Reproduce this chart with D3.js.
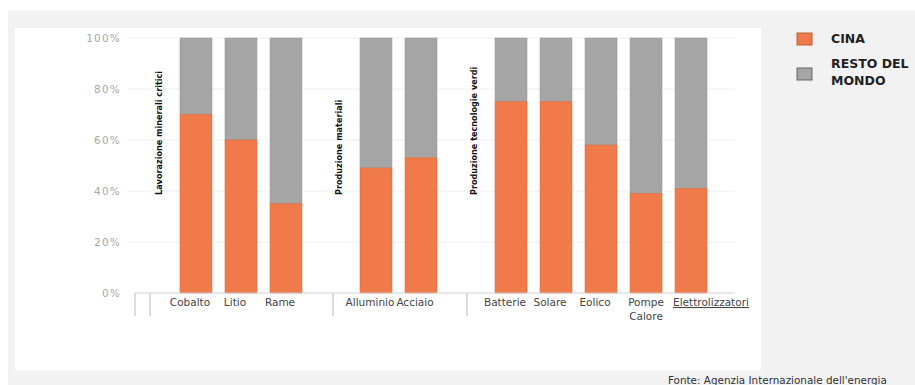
<!DOCTYPE html>
<html><head><meta charset="utf-8">
<script src="https://cdn.jsdelivr.net/npm/d3@7"></script>
<style>body{margin:0;background:#fff}svg{display:block}</style>
</head><body>
<svg id="c" width="915" height="385"></svg>
<script>
// Data
const slots = ["g1","Cobalto","Litio","Rame","g2","Alluminio","Acciaio","g3","Batterie","Solare","Eolico","Pompe Calore","Elettrolizzatori"];
const categories = ["Cobalto","Litio","Rame","Alluminio","Acciaio","Batterie","Solare","Eolico","Pompe Calore","Elettrolizzatori"];
const cina = [70,60,35,49,53,75,75,58,39,41];
const groupSlots = ["g1","g2","g3"];
const groupLabels = ["Lavorazione minerali critici","Produzione materiali","Produzione tecnologie verdi"];
const yTicks = [0,20,40,60,80,100];
const seriesNames = ["CINA","RESTO DEL MONDO"];
const colors = ["#f07a4a","#a5a5a5"];

const svg = d3.select("#c");
// backgrounds
svg.append("rect").attr("x",8).attr("y",10).attr("width",907).attr("height",375).attr("fill","#f2f2f2");
svg.append("rect").attr("x",15).attr("y",28).attr("width",746).attr("height",342).attr("fill","#ffffff");

const pLeft=135, pTop=38, pBottom=293;
const x = d3.scaleBand().domain(slots).range([pLeft,707]).paddingInner(0.29).paddingOuter(0).align(0);
const y = d3.scaleLinear().domain([0,100]).range([pBottom,pTop]);

// gridlines
svg.append("g").selectAll("line").data(yTicks.filter(d=>d>0)).join("line")
  .attr("x1",128).attr("x2",735).attr("y1",d=>y(d)).attr("y2",d=>y(d))
  .attr("stroke","#f0f0f0").attr("stroke-width",1);

// y axis labels
const ya = svg.append("g").attr("transform",`translate(${pLeft-11},0)`)
  .call(d3.axisLeft(y).tickValues(yTicks).tickFormat(d=>d+"%").tickSize(0));
ya.select(".domain").remove();
ya.selectAll("text").attr("font-family","DejaVu Sans").attr("font-size",10.5).attr("letter-spacing",1.2)
  .attr("fill","#a8a8a8").attr("dx",0);

// bars
const data = categories.map((c,i)=>({c, v:cina[i]}));
const bars = svg.append("g");
bars.selectAll(".rest").data(data).join("rect").attr("class","rest")
  .attr("x",d=>x(d.c)).attr("width",x.bandwidth())
  .attr("y",y(100)).attr("height",d=>y(d.v)-y(100))
  .attr("fill",colors[1]).attr("stroke","#9a9a9a").attr("stroke-width",0.6);
bars.selectAll(".cina").data(data).join("rect").attr("class","cina")
  .attr("x",d=>x(d.c)).attr("width",x.bandwidth())
  .attr("y",d=>y(d.v)).attr("height",d=>y(0)-y(d.v))
  .attr("fill",colors[0]).attr("stroke","#e06a3c").attr("stroke-width",0.6);

// x axis line
svg.append("line").attr("x1",pLeft).attr("x2",735).attr("y1",pBottom).attr("y2",pBottom).attr("stroke","#d0d0d0");
// separators
const seps = [pLeft, pLeft+15, (x("Rame")+x.bandwidth()+x("Alluminio"))/2 + 2, (x("Acciaio")+x.bandwidth()+x("Batterie"))/2 + 1];
svg.append("g").selectAll("line").data(seps).join("line")
  .attr("x1",d=>d).attr("x2",d=>d).attr("y1",pBottom).attr("y2",316)
  .attr("stroke","#b8b8b8").attr("stroke-width",1);

// category labels
const xl = svg.append("g").attr("font-family","'DejaVu Sans'").attr("font-size",10.5).attr("fill","#444");
xl.selectAll("text").data(categories).join("text")
  .attr("x",d=>x(d)+x.bandwidth()/2 - 6).attr("y",306).attr("text-anchor","middle")
  .each(function(d){
    const t=d3.select(this);
    const cx = x(d)+x.bandwidth()/2;
    if(d==="Pompe Calore"){
      t.append("tspan").attr("x",cx).attr("dy",0).text("Pompe");
      t.append("tspan").attr("x",cx).attr("dy",14).text("Calore");
    } else if(d==="Elettrolizzatori"){
      t.attr("x",x(d)-2).attr("text-anchor","start").text(d).attr("text-decoration","underline");
    } else t.text(d);
  });

// group labels (vertical)
svg.append("g").selectAll("text").data(groupSlots).join("text")
  .attr("transform",d=>`translate(${x(d)+x.bandwidth()/2 + 11},195) rotate(-90)`)
  .attr("font-family","'Liberation Sans Narrow','DejaVu Sans Condensed',Arial").attr("font-size",9).attr("font-weight","bold").attr("fill","#111")
  .attr("text-anchor","start")
  .text((d,i)=>groupLabels[i]);

// legend
const lg = svg.append("g").attr("font-family","'DejaVu Sans'").attr("font-weight","bold").attr("font-size",12.5).attr("fill","#222");
lg.selectAll("rect").data(seriesNames).join("rect")
  .attr("x",797).attr("y",(d,i)=>33+i*35).attr("width",15).attr("height",12)
  .attr("fill",(d,i)=>colors[i]).attr("stroke",(d,i)=>i?"#666":"#c06030").attr("stroke-width",1);
lg.append("text").attr("x",831).attr("y",43).text(seriesNames[0]);
const t2 = lg.append("text").attr("x",831).attr("y",68);
t2.append("tspan").attr("x",831).text("RESTO DEL");
t2.append("tspan").attr("x",831).attr("dy",17).text("MONDO");

// source
svg.append("text").attr("x",668).attr("y",384).attr("font-family","'DejaVu Sans'").attr("font-size",10.4).attr("fill","#333")
  .text("Fonte: Agenzia Internazionale dell'energia");
</script>
</body></html>
